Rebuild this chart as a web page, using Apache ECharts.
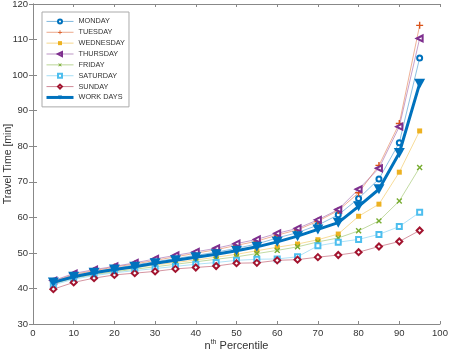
<!DOCTYPE html>
<html>
<head>
<meta charset="utf-8">
<script src="https://cdn.jsdelivr.net/npm/echarts@6/dist/echarts.min.js"></script>
<style>
  html, body { margin: 0; padding: 0; background: #fff; }
  #chart { width: 449px; height: 354px; }
</style>
</head>
<body>
<div id="chart"></div>
<script>
// percentiles on x
const percentiles = [5, 10, 15, 20, 25, 30, 35, 40, 45, 50, 55, 60, 65, 70, 75, 80, 85, 90, 95];

const monday    = [41.8, 43.6, 44.7, 45.6, 46.6, 47.5, 48.4, 49.3, 50.2, 51.3, 52.5, 54.2, 55.7, 57.8, 60.7, 65.3, 70.8, 81.0, 104.8];
const tuesday   = [42.0, 43.9, 45.0, 46.0, 46.9, 47.9, 48.9, 49.9, 50.9, 52.1, 53.3, 55.0, 56.5, 58.9, 61.9, 66.9, 74.6, 86.4, 114.0];
const wednesday = [41.5, 43.1, 44.2, 45.0, 45.8, 46.6, 47.3, 48.0, 48.8, 49.6, 50.6, 51.6, 52.5, 53.7, 55.3, 60.3, 63.7, 72.7, 84.3];
const thursday  = [42.2, 44.2, 45.3, 46.2, 47.2, 48.3, 49.3, 50.3, 51.3, 52.6, 53.8, 55.5, 56.9, 59.3, 62.2, 67.9, 73.8, 85.5, 110.3];
const friday    = [41.3, 42.9, 43.9, 44.7, 45.4, 46.1, 46.8, 47.5, 48.2, 48.9, 49.8, 50.7, 51.7, 53.1, 54.2, 56.2, 59.0, 64.6, 74.0];
const saturday  = [41.0, 42.6, 43.6, 44.4, 45.0, 45.6, 46.2, 46.8, 47.3, 47.9, 48.2, 48.3, 48.9, 52.0, 53.0, 53.8, 55.2, 57.4, 61.4];
const sunday    = [39.8, 41.7, 42.9, 43.8, 44.3, 44.8, 45.5, 45.9, 46.3, 47.1, 47.2, 47.9, 48.1, 48.8, 49.4, 50.2, 51.8, 53.2, 56.3];
const workDays  = [41.7, 43.3, 44.4, 45.3, 46.1, 47.1, 47.9, 48.8, 49.6, 50.6, 51.7, 53.1, 54.7, 56.6, 58.5, 63.1, 67.9, 78.1, 97.6];

const plusPath = 'path://M4,0h2v4h4v2h-4v4h-2v-4h-4v-2h4z';

function pairs(vals) {
  return percentiles.map((p, i) => [p, vals[i]]);
}

function daySeries(name, vals, color, symbol, size, rotate) {
  return {
    name: name,
    type: 'line',
    data: pairs(vals),
    symbol: symbol,
    symbolSize: size,
    symbolRotate: rotate || 0,
    showAllSymbol: true,
    itemStyle: { color: color, borderWidth: 1.2 },
    lineStyle: { color: color, width: 1, opacity: 0.45 },
    emphasis: { disabled: true },
  };
}

const dayNames = ['MONDAY', 'TUESDAY', 'WEDNESDAY', 'THURSDAY', 'FRIDAY', 'SATURDAY', 'SUNDAY'];

const chart = echarts.init(document.getElementById('chart'));

const option = {
  animation: false,
  grid: { left: 33, right: 9, top: 4, bottom: 30, outerBoundsMode: 'none' },
  legend: {
    left: 42,
    top: 12,
    orient: 'vertical',
    padding: [4, 4, 4, 3],
    itemWidth: 27,
    itemHeight: 5,
    itemGap: 0,
    borderColor: '#aaa',
    borderWidth: 1,
    backgroundColor: '#fff',
    lineStyle: { width: 1, opacity: 0.5 },
    textStyle: { fontSize: 7.3, lineHeight: 10.86, color: '#333', fontFamily: 'Liberation Sans' },
    data: dayNames.concat([{ name: 'WORK DAYS', lineStyle: { width: 3, opacity: 1 } }]),
  },
  xAxis: [
    {
      type: 'value',
      min: 0,
      max: 100,
      interval: 10,
      name: 'n{sup|th} Percentile',
      nameLocation: 'middle',
      nameGap: 15,
      nameMoveOverlap: false,
      nameTextStyle: {
        fontSize: 11,
        color: '#333',
        fontFamily: 'Liberation Sans',
        rich: { sup: { fontSize: 7, verticalAlign: 'top', padding: [0, 0, 6, 0], color: '#333' } },
      },
      axisLine: { lineStyle: { color: '#888' } },
      axisTick: { inside: true, length: 3, lineStyle: { color: '#888' } },
      axisLabel: { fontSize: 9.5, color: '#333', margin: 4, fontFamily: 'Liberation Sans' },
      splitLine: { show: false },
    },
    {
      type: 'value',
      position: 'top',
      min: 0,
      max: 100,
      interval: 10,
      axisLine: { lineStyle: { color: '#888' } },
      axisTick: { inside: true, length: 3, lineStyle: { color: '#888' } },
      axisLabel: { show: false },
      splitLine: { show: false },
    },
  ],
  yAxis: [
    {
      type: 'value',
      min: 30,
      max: 120,
      interval: 10,
      name: 'Travel Time [min]',
      nameLocation: 'middle',
      nameGap: 19,
      nameMoveOverlap: false,
      nameTextStyle: { fontSize: 10.5, color: '#333', fontFamily: 'Liberation Sans' },
      axisLine: { show: true, lineStyle: { color: '#888' } },
      axisTick: { show: true, inside: true, length: 4, lineStyle: { color: '#888' } },
      axisLabel: { fontSize: 9.5, color: '#333', margin: 5, fontFamily: 'Liberation Sans' },
      splitLine: { show: false },
    },
    {
      type: 'value',
      position: 'right',
      min: 30,
      max: 120,
      interval: 10,
      axisLine: { show: true, lineStyle: { color: '#888' } },
      axisTick: { show: true, inside: true, length: 4, lineStyle: { color: '#888' } },
      axisLabel: { show: false },
      splitLine: { show: false },
    },
  ],
  series: [
    daySeries('MONDAY', monday, '#0072BD', 'emptyCircle', 5),
    daySeries('TUESDAY', tuesday, '#D95319', plusPath, 7),
    daySeries('WEDNESDAY', wednesday, '#EDB120', 'rect', 5),
    daySeries('THURSDAY', thursday, '#7E2F8E', 'emptyTriangle', 6, 90),
    daySeries('FRIDAY', friday, '#77AC30', plusPath, 7, 45),
    daySeries('SATURDAY', saturday, '#4DBEEE', 'emptyRect', 5),
    daySeries('SUNDAY', sunday, '#A2142F', 'emptyDiamond', 6),
    {
      name: 'WORK DAYS',
      type: 'line',
      data: pairs(workDays),
      symbol: 'triangle',
      symbolRotate: 180,
      symbolSize: [11, 10],
      showAllSymbol: true,
      itemStyle: { color: '#0072BD' },
      lineStyle: { color: '#0072BD', width: 3 },
      emphasis: { disabled: true },
      z: 5,
    },
  ],
};

chart.setOption(option);
</script>
</body>
</html>
